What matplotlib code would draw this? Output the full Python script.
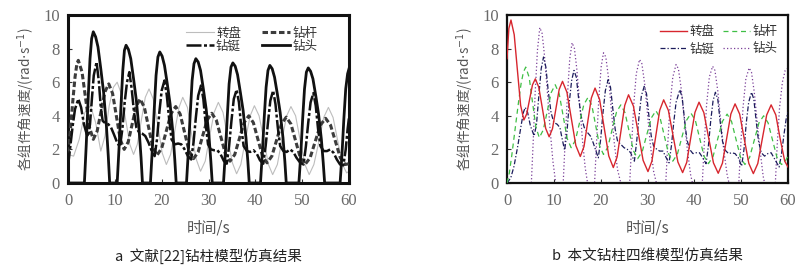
import matplotlib
matplotlib.use("Agg")
import matplotlib.pyplot as plt

plt.rcParams['font.family'] = ['Noto Sans CJK SC', 'DejaVu Sans']
plt.rcParams['mathtext.fontset'] = 'dejavusans'

# ---------------- data: panel a (reference model) ----------------
t_a_table = [0, 1.2, 2.4, 3.6, 4.8, 5.9, 7.0, 7.9, 8.8, 9.7, 10.5, 11.4, 12.3, 13.2, 14.0,
             14.8, 15.7, 16.5, 17.3, 18.2, 19.2, 20.1, 21.0, 21.9, 22.8, 23.7, 24.5,
             25.5, 26.4, 27.4, 28.3, 29.3, 30.2, 31.2, 32.1, 33.1, 34.1, 35.1, 36.0,
             36.9, 37.9, 38.9, 39.8, 40.8, 41.8, 42.8, 43.7, 44.7, 45.7, 46.7, 47.6,
             48.6, 49.6, 50.6, 51.5, 52.5, 53.6, 54.6, 55.6, 56.6, 57.6, 58.6, 59.5, 60]
v_a_table = [1.7, 1.6, 2.6, 4.2, 4.6, 3.6, 1.9, 2.8, 4.6, 5.7, 6.0, 5.3, 3.8, 2.3, 1.7,
             2.3, 3.8, 5.1, 5.6, 5.0, 3.4, 1.8, 1.1, 1.7, 3.1, 4.5, 5.1, 4.5, 2.9, 1.4,
             0.7, 1.3, 2.7, 4.2, 4.8, 4.2, 2.7, 1.2, 0.55, 1.1, 2.6, 4.0, 4.6, 4.0, 2.6,
             1.1, 0.5, 1.1, 2.6, 4.0, 4.55, 4.0, 2.5, 1.1, 0.5, 1.1, 2.5, 3.9, 4.5, 3.9,
             2.5, 1.1, 0.6, 0.7]

t_a_pipe = [0, 0.5, 1.0, 1.5, 1.9, 2.2, 3.0, 3.8, 4.6, 5.4, 6.22, 7.05, 7.88, 8.7,
            9.52, 10.35, 11.18, 12.0, 12.85, 13.7, 14.55, 15.4, 16.3, 17.2, 18.1, 19.0,
            20.0, 21.0, 22.0, 23.0, 23.95, 24.9, 25.85, 26.8, 27.78, 28.75, 29.73, 30.7,
            31.68, 32.65, 33.63, 34.6, 35.6, 36.6, 37.6, 38.6, 39.58, 40.55, 41.53, 42.5,
            43.53, 44.55, 45.58, 46.6, 47.6, 48.6, 49.6, 50.6, 51.7, 52.8, 53.9, 55.0,
            56.05, 57.1, 58.15, 59.2, 60]
v_a_pipe = [1.8, 3.1, 4.8, 6.3, 7.1, 7.3, 6.6, 4.95, 3.3, 2.6, 3.08, 4.25, 5.42, 5.9,
            5.33, 3.95, 2.57, 2.0, 2.44, 3.5, 4.56, 5.0, 4.51, 3.33, 2.14, 1.65,
            2.07, 3.1, 4.13, 4.55, 4.10, 3.0, 1.9, 1.45, 1.84, 2.8, 3.76, 4.15,
            3.73, 2.73, 1.72, 1.3, 1.69, 2.65, 3.6, 4.0, 3.59, 2.6, 1.61, 1.2,
            1.6, 2.56, 3.52, 3.92, 3.51, 2.51, 1.51, 1.1, 1.5, 2.48, 3.45, 3.85,
            3.45, 2.48, 1.5, 1.1, 1.15]

t_a_collar = [0, 0.5, 1.0, 1.5, 2.2, 2.8, 3.4, 4.0, 4.3, 4.7, 5.1, 5.5, 6.1, 6.6, 7.0,
              7.4, 8.0, 8.6, 9.2, 9.8, 10.5, 11.1, 11.6, 12.1, 12.6, 13.1, 13.6, 14.1,
              14.6, 15.1, 15.8, 16.5, 17.2, 17.9, 18.5, 19.0, 19.5, 20.0, 20.6, 21.1,
              21.6, 22.1, 22.8, 23.5, 24.2, 24.9, 25.6, 26.3, 26.8, 27.3, 27.8, 28.4,
              28.9, 29.4, 29.9, 30.5, 31.2, 31.9, 32.6, 33.3, 33.9, 34.4, 34.9, 35.4,
              36.0, 36.5, 37.0, 37.5, 38.2, 38.9, 39.6, 40.3, 41.0, 41.7, 42.2, 42.7,
              43.2, 43.8, 44.3, 44.8, 45.3, 46.0, 46.7, 47.4, 48.1, 48.8, 49.6, 50.3,
              50.8, 51.3, 51.8, 52.4, 52.9, 53.4, 53.9, 54.6, 55.3, 56.0, 56.7, 57.4,
              58.1, 58.8, 59.3, 59.7, 60]
v_a_collar = [1.0, 2.2, 3.4, 4.4, 5.0, 4.5, 3.5, 2.9, 2.75, 3.5, 5.0, 6.4, 7.2, 6.0, 4.5,
              3.7, 3.55, 3.5, 3.3, 2.9, 2.4, 2.15, 3.2, 4.8, 6.0, 6.6, 5.6, 4.2,
              3.3, 3.05, 2.95, 2.8, 2.4, 1.9, 1.6, 2.6, 4.2, 5.5, 6.1, 5.2,
              3.8, 2.6, 2.3, 2.35, 2.3, 2.0, 1.6, 1.4, 2.4, 3.9, 5.2, 5.8,
              5.0, 3.5, 2.3, 2.0, 1.95, 1.95, 1.7, 1.3, 1.15, 2.2, 3.7, 5.0,
              5.55, 4.8, 3.3, 2.2, 1.9, 1.85, 1.95, 1.75, 1.35, 1.15, 2.2, 3.6,
              4.9, 5.5, 4.7, 3.3, 2.2, 1.9, 1.85, 2.0, 1.85, 1.5, 1.2, 1.1,
              2.2, 3.6, 4.8, 5.35, 4.6, 3.2, 2.2, 1.9, 1.9, 2.0, 1.8, 1.4,
              1.1, 1.05, 2.0, 3.2, 3.9]

t_a_bit = [0, 3.5, 3.9, 4.3, 4.7, 5.05, 5.4, 5.9, 6.4, 7.0, 7.6, 8.2, 8.6, 8.9,
           10.5, 10.9, 11.3, 11.7, 12.05, 12.4, 12.9, 13.4, 14.0, 14.6, 15.2, 15.6, 15.9,
           17.6, 18.0, 18.4, 18.8, 19.2, 19.6, 20.1, 20.6, 21.2, 21.8, 22.4, 22.8, 23.1,
           25.3, 25.7, 26.1, 26.5, 26.9, 27.3, 27.8, 28.3, 28.9, 29.5, 30.1, 30.5, 30.8,
           33.2, 33.6, 34.0, 34.4, 34.8, 35.2, 35.7, 36.2, 36.8, 37.4, 38.0, 38.4, 38.7,
           41.1, 41.5, 41.9, 42.3, 42.7, 43.1, 43.6, 44.1, 44.7, 45.3, 45.9, 46.3, 46.6,
           49.3, 49.7, 50.1, 50.5, 50.9, 51.3, 51.8, 52.3, 52.9, 53.5, 54.1, 54.5, 54.8,
           58.1, 58.5, 58.9, 59.3, 59.7, 60]
v_a_bit = [0, 0, 2.3, 5.0, 7.4, 8.6, 9.0, 8.7, 8.1, 6.8, 5.4, 3.4, 1.6, 0,
           0, 2.1, 4.5, 6.7, 7.9, 8.2, 7.95, 7.4, 6.2, 4.9, 3.1, 1.5, 0,
           0, 2.0, 4.3, 6.4, 7.5, 7.8, 7.55, 7.0, 5.9, 4.7, 3.0, 1.4, 0,
           0, 1.9, 4.1, 6.1, 7.1, 7.4, 7.2, 6.7, 5.6, 4.4, 2.8, 1.3, 0,
           0, 1.8, 3.9, 5.9, 6.9, 7.15, 6.95, 6.45, 5.4, 4.3, 2.7, 1.3, 0,
           0, 1.8, 3.9, 5.7, 6.7, 7.0, 6.8, 6.3, 5.3, 4.2, 2.7, 1.3, 0,
           0, 1.7, 3.8, 5.6, 6.6, 6.85, 6.65, 6.2, 5.2, 4.1, 2.6, 1.2, 0,
           0, 1.7, 3.8, 5.6, 6.5, 6.8]

# ---------------- data: panel b (this paper, 4-D model) ----------------
t_b_table = [0, 0.4, 0.85, 1.54, 2.22, 2.91, 3.6, 4.21, 4.83, 5.44, 6.05, 6.79, 7.53, 8.26,
             9.0, 9.71, 10.43, 11.14, 11.85, 12.8, 13.75, 14.7, 15.65, 16.44, 17.23, 18.01,
             18.8, 19.78, 20.75, 21.73, 22.7, 23.51, 24.33, 25.14, 25.95, 26.99, 28.03,
             29.06, 30.1, 30.94, 31.78, 32.61, 33.45, 34.46, 35.48, 36.49, 37.5, 38.38,
             39.25, 40.13, 41.0, 42.03, 43.05, 44.08, 45.1, 46.0, 46.9, 47.8, 48.7, 49.68,
             50.65, 51.63, 52.6, 53.55, 54.5, 55.45, 56.4, 57.4, 58.35, 59.3, 60]
v_b_table = [7.4, 9.2, 9.7, 8.83, 6.72, 4.62, 3.75, 4.11, 4.98, 5.84, 6.2, 5.70, 4.48, 3.25,
             2.75, 3.23, 4.40, 5.57, 6.05, 5.40, 3.82, 2.23, 1.58, 2.17, 3.62, 5.06,
             5.65, 4.96, 3.29, 1.61, 0.92, 1.55, 3.09, 4.62, 5.25, 4.58, 2.97,
             1.35, 0.68, 1.30, 2.82, 4.33, 4.95, 4.32, 2.79, 1.25, 0.62, 1.23,
             2.72, 4.20, 4.81, 4.19, 2.70, 1.20, 0.58, 1.18, 2.65, 4.11, 4.71, 4.10,
             2.64, 1.17, 0.56, 1.16, 2.61, 4.05, 4.65, 4.05, 2.6, 1.3, 0.95]

t_b_pipe = [0, 0.5, 1.0, 1.5, 2.0, 2.5, 3.0, 3.5, 4.0, 4.73, 5.45, 6.18, 6.9, 7.75, 8.6,
            9.45, 10.3, 11.15, 12.0, 12.85, 13.7, 14.6, 15.5, 16.4, 17.3, 18.13, 18.95,
            19.78, 20.6, 21.53, 22.45, 23.38, 24.3, 25.2, 26.1, 27.0, 27.9, 28.88, 29.85,
            30.83, 31.8, 32.7, 33.6, 34.5, 35.4, 36.38, 37.35, 38.33, 39.3, 40.23, 41.15,
            42.08, 43.0, 44.0, 45.0, 46.0, 47.0, 47.95, 48.9, 49.85, 50.8, 51.8, 52.8,
            53.8, 54.8, 55.75, 56.7, 57.65, 58.6, 59.3, 60]
v_b_pipe = [0, 0.6, 1.6, 2.7, 3.8, 4.9, 5.9, 6.6, 6.9, 6.29, 4.80, 3.31, 2.7, 3.16, 4.28,
            5.39, 5.85, 5.30, 3.98, 2.65, 2.1, 2.54, 3.6, 4.66, 5.1, 4.60, 3.40,
            2.20, 1.7, 2.13, 3.18, 4.22, 4.65, 4.18, 3.05, 1.92, 1.45, 1.87, 2.88,
            3.88, 4.3, 3.86, 2.8, 1.74, 1.3, 1.72, 2.73, 3.73, 4.15, 3.71, 2.65,
            1.59, 1.15, 1.58, 2.63, 3.67, 4.1, 3.66, 2.6, 1.54, 1.1, 1.52, 2.55,
            3.58, 4.0, 3.58, 2.55, 1.52, 1.1, 1.25, 1.6]

t_b_collar = [0, 0.8, 1.5, 2.3, 3.0, 3.5, 3.9, 4.4, 5.0, 5.8, 6.3, 6.8, 7.3, 7.8, 8.3, 8.8,
              9.4, 10.0, 10.7, 11.3, 11.8, 12.3, 12.8, 13.3, 13.8, 14.3, 14.8, 15.3, 15.9,
              16.5, 17.2, 17.8, 18.4, 19.0, 19.5, 20.0, 20.5, 21.0, 21.6, 22.1, 22.6, 23.1,
              23.6, 24.3, 25.0, 25.7, 26.4, 27.2, 27.7, 28.2, 28.7, 29.3, 29.8, 30.3, 30.8,
              31.3, 32.0, 32.6, 33.3, 34.0, 34.6, 35.1, 35.6, 36.1, 36.9, 37.4, 37.9, 38.4,
              39.0, 39.7, 40.4, 41.1, 41.8, 42.5, 43.0, 43.5, 44.0, 44.5, 45.0, 45.5, 46.0,
              46.6, 47.3, 48.0, 48.7, 49.4, 50.1, 50.6, 51.1, 51.6, 52.2, 52.7, 53.2, 53.7,
              54.3, 55.0, 55.7, 56.4, 57.0, 57.6, 58.1, 58.6, 59.1, 59.6, 60]
v_b_collar = [0, 0.3, 1.0, 2.2, 3.4, 4.2, 4.5, 4.2, 3.4, 2.8, 3.5, 5.2, 6.8, 7.5, 6.9, 5.5,
              4.2, 3.6, 3.5, 3.3, 2.6, 1.95, 3.0, 4.8, 6.1, 6.7, 6.3, 5.0, 3.9,
              3.3, 3.0, 2.8, 2.4, 1.9, 1.5, 2.6, 4.2, 5.5, 6.15, 5.7, 4.4, 3.2,
              2.5, 2.3, 2.1, 2.0, 1.8, 1.3, 2.5, 4.0, 5.2, 5.75, 5.3, 4.0, 2.8,
              2.2, 2.0, 1.9, 1.9, 1.5, 1.2, 2.2, 3.6, 4.8, 5.55, 5.1, 3.8, 2.6,
              2.0, 1.75, 1.8, 1.8, 1.5, 1.15, 2.2, 3.7, 4.9, 5.4, 5.0, 3.7, 2.5,
              1.95, 1.75, 1.8, 1.75, 1.5, 1.0, 2.0, 3.6, 4.8, 5.4, 5.0, 3.7, 2.5,
              1.8, 1.6, 1.75, 1.8, 1.5, 1.2, 0.95, 1.7, 2.8, 3.8, 4.2]

t_b_bit = [0, 5.2, 5.6, 6.0, 6.5, 7.0, 7.5, 8.0, 8.6, 9.2, 9.8, 10.4,
           12.0, 12.4, 12.9, 13.4, 13.9, 14.4, 14.9, 15.5, 16.1, 16.7, 17.2,
           18.7, 19.1, 19.6, 20.1, 20.6, 21.1, 21.7, 22.3, 22.9, 23.6, 24.3,
           26.2, 26.6, 27.1, 27.6, 28.3, 28.8, 29.4, 30.0, 30.6, 31.3, 31.9,
           33.9, 34.3, 34.8, 35.4, 36.1, 36.6, 37.2, 37.8, 38.5, 39.2, 39.6,
           41.7, 42.1, 42.6, 43.2, 43.9, 44.4, 45.0, 45.6, 46.3, 47.0, 47.4,
           49.5, 49.9, 50.4, 51.0, 51.7, 52.2, 52.8, 53.4, 54.1, 54.7, 55.0,
           57.3, 57.7, 58.2, 58.8, 59.4, 60]
v_b_bit = [0, 0, 2.5, 5.3, 7.9, 9.25, 8.9, 7.6, 5.5, 3.2, 1.3, 0,
           0, 2.4, 5.2, 7.4, 8.35, 8.0, 6.8, 4.8, 2.6, 0.9, 0,
           0, 2.3, 5.0, 6.9, 7.75, 7.5, 6.2, 4.3, 2.4, 0.8, 0,
           0, 2.2, 4.8, 6.5, 7.35, 7.1, 5.9, 4.1, 2.3, 0.7, 0,
           0, 2.2, 4.6, 6.3, 7.05, 6.8, 5.6, 3.9, 2.0, 0.5, 0,
           0, 2.2, 4.6, 6.3, 6.95, 6.7, 5.5, 3.8, 1.9, 0.5, 0,
           0, 2.2, 4.5, 6.2, 6.85, 6.6, 5.4, 3.7, 1.8, 0.4, 0,
           0, 2.3, 4.5, 6.0, 6.7, 6.85]

labels = ['转盘', '钻杆', '钻铤', '钻头']
x_ticks = [0, 10, 20, 30, 40, 50, 60]
y_ticks = [0, 2, 4, 6, 8, 10]
ylabel = '各组件角速度/(rad$\\cdot$s$^{-1}$)'
xlabel = '时间/s'
caption_a = 'a  文献[22]钻柱模型仿真结果'
caption_b = 'b  本文钻柱四维模型仿真结果'

# ---------------- figure ----------------
fig = plt.figure(figsize=(8.05, 2.72), dpi=100)
ax_a = fig.add_axes([68 / 805, 1 - 183 / 272, 281 / 805, 168 / 272])
ax_b = fig.add_axes([507 / 805, 1 - 183 / 272, 281 / 805, 168 / 272])

tick_color = '#6a6a6a'
serif = ['Liberation Serif', 'DejaVu Serif']


def style_axes(ax, spine_w):
    ax.set_xlim(0, 60)
    ax.set_ylim(0, 10)
    ax.set_xticks(x_ticks)
    ax.set_yticks(y_ticks)
    ax.tick_params(direction='in', length=3, width=0.8, colors='#333333',
                   labelcolor=tick_color, labelsize=12, pad=6)
    ax.tick_params(axis='x', pad=7)
    for lab in ax.get_xticklabels() + ax.get_yticklabels():
        lab.set_family(serif)
    for sp in ax.spines.values():
        sp.set_linewidth(spine_w)
        sp.set_color('#111111')
    ax.set_xlabel(xlabel, fontsize=11, color='#555555', labelpad=8)
    ax.set_ylabel(ylabel, fontsize=9.8, color='#555555', labelpad=4)


# panel a
h_tab, = ax_a.plot(t_a_table, v_a_table, color='#bdbdbd', lw=0.8, zorder=2)
h_pipe, = ax_a.plot(t_a_pipe, v_a_pipe, color='#3c3c3c', lw=2.2,
                    linestyle=(0, (1.8, 0.9)), zorder=3)
h_col, = ax_a.plot(t_a_collar, v_a_collar, color='#111111', lw=1.8,
                   linestyle=(0, (6, 1, 1.2, 1)), zorder=4)
h_bit, = ax_a.plot(t_a_bit, v_a_bit, color='#111111', lw=2.0, zorder=5)
style_axes(ax_a, 2.2)
ax_a.legend([h_tab, h_col, h_pipe, h_bit], [labels[0], labels[2], labels[1], labels[3]],
            ncol=2, loc='upper left', bbox_to_anchor=(0.42, 0.93), frameon=False,
            fontsize=9, handlelength=2.2, handletextpad=0.2, columnspacing=1.7,
            labelspacing=0.0, borderpad=0, borderaxespad=0, labelcolor='#333333')

# panel b
hb_bit, = ax_b.plot(t_b_bit, v_b_bit, color='#7a3f98', lw=0.9,
                    linestyle=(0, (1, 1.8)), zorder=2)
hb_col, = ax_b.plot(t_b_collar, v_b_collar, color='#1c1c5c', lw=0.9,
                    linestyle=(0, (4, 1.6, 1, 1.6)), zorder=3)
hb_pipe, = ax_b.plot(t_b_pipe, v_b_pipe, color='#3fbf45', lw=0.9,
                     linestyle=(0, (4, 3)), zorder=4)
hb_tab, = ax_b.plot(t_b_table, v_b_table, color='#d7262e', lw=1.0, zorder=5)
style_axes(ax_b, 1.6)
ax_b.legend([hb_tab, hb_col, hb_pipe, hb_bit], [labels[0], labels[2], labels[1], labels[3]],
            ncol=2, loc='upper left', bbox_to_anchor=(0.545, 0.94), frameon=False,
            fontsize=9, handlelength=2.15, handletextpad=0.2, columnspacing=0.7,
            labelspacing=0.35, borderpad=0, borderaxespad=0, labelcolor='#333333')

# captions
fig.text((68 + 349) / 2 / 805, 1 - 256 / 272, caption_a, ha='center', va='center',
         fontsize=10.5, color='#222222')
fig.text((507 + 788) / 2 / 805, 1 - 256 / 272, caption_b, ha='center', va='center',
         fontsize=10.5, color='#222222')

fig.savefig('out.png', dpi=100, facecolor='white')
